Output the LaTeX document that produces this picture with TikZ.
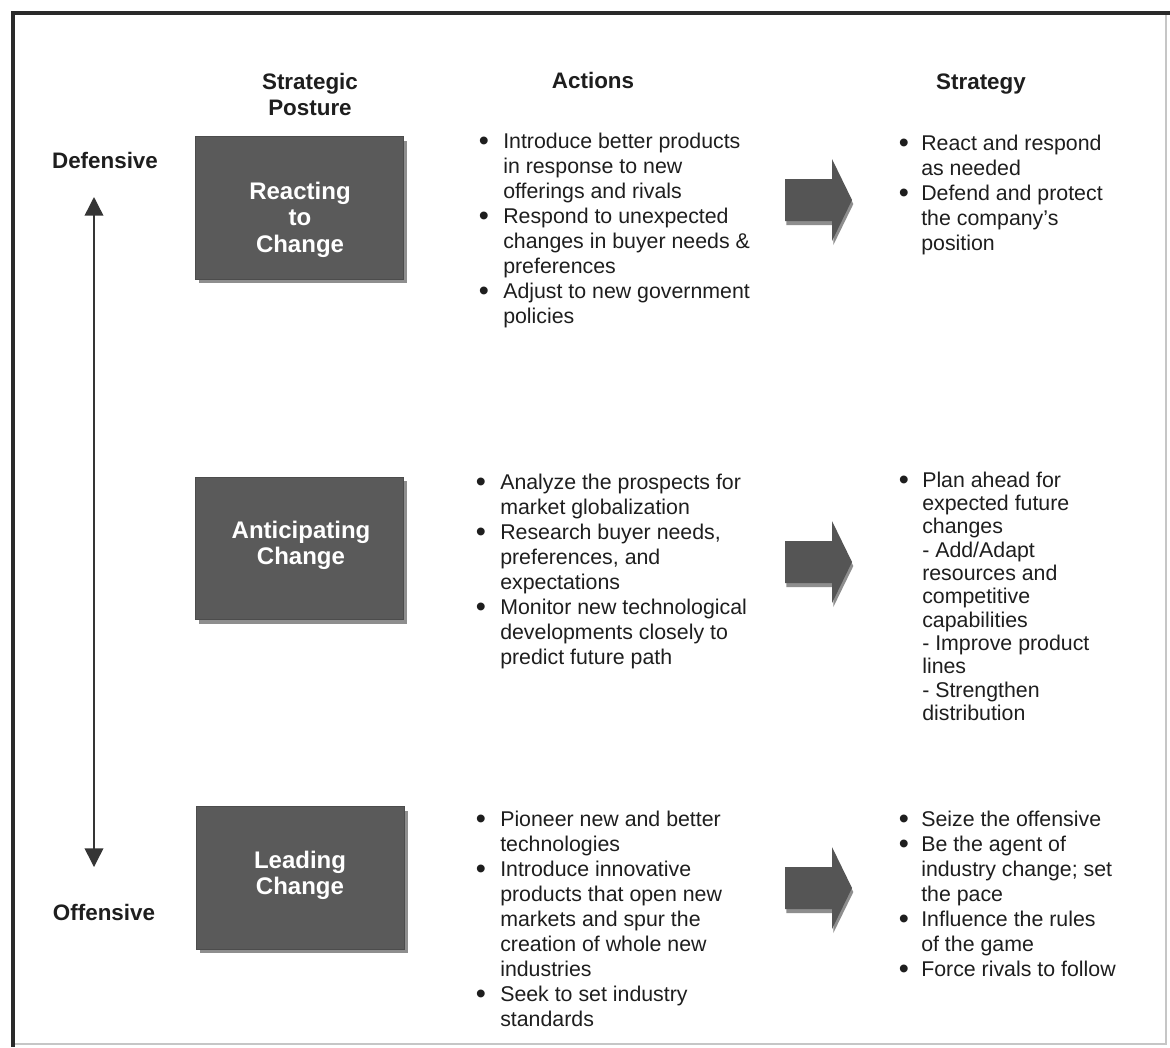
\documentclass[tikz,border=0pt]{standalone}
\usepackage{fontspec}
\usepackage{graphicx}
\setmainfont{Liberation Sans}
\usetikzlibrary{arrows.meta,shadows}

\definecolor{ink}{HTML}{1E1E1E}
\definecolor{boxgray}{HTML}{5A5A5A}
\definecolor{shadowgray}{HTML}{8E8E8E}
\definecolor{arrowgray}{HTML}{555555}
\definecolor{framegray}{HTML}{2A2A2A}

% bullet mark of a given column width
\newcommand\bl[1]{\makebox[#1][l]{\hspace*{-1pt}\smash{\raisebox{-2.2pt}{\scalebox{1.35}{\textbullet}}}}}

\tikzset{
  colhead/.style={font=\bfseries\fontsize{16.8}{19.5}\selectfont, text=ink, inner sep=0, anchor=base},
  posturebox/.style={fill=boxgray, draw=boxgray!85!black, line width=0.6pt,
    minimum width=156pt, minimum height=107pt, inner sep=0,
    drop shadow={shadow xshift=3pt, shadow yshift=-3pt, fill=shadowgray, opacity=1}},
  posturetext/.style={font=\bfseries\fontsize{18}{20}\selectfont, text=white, inner sep=0, anchor=base},
  bulletlist/.style={font=\fontsize{16}{18.75}\selectfont, text=ink, inner sep=0, anchor=base west},
  tightlist/.style={bulletlist, font=\fontsize{16}{17.5}\selectfont},
  axis/.style={draw=ink!90, line width=1.1pt, {Triangle[length=14pt,width=14pt]}-{Triangle[length=14pt,width=14pt]}},
  blockarrow/.style={fill=arrowgray},
  blockshadow/.style={fill=shadowgray}
}

\begin{document}
\begin{tikzpicture}[x=0.75pt, y=-0.75pt]
\useasboundingbox (0,0) rectangle (1170,1047);
\fill[white] (0,0) rectangle (1170,1047);

% outer frame
\draw[gray!45, line width=0.8pt] (1166,13) -- (1166,1044) -- (13,1044);
\draw[framegray, line width=3pt] (11,13) -- (1170,13);
\draw[framegray, line width=3pt] (13,11) -- (13,1047);

% column headings
\node[colhead] (hpost) at (310,89) {\begin{tabular}[t]{@{}c@{}}Strategic\\Posture\end{tabular}};
\node[colhead] (hact) at (593,88) {Actions};
\node[colhead] (hstrat) at (981,89) {Strategy};

% defensive / offensive axis
\node[colhead] (def) at (105,168) {Defensive};
\node[colhead] (off) at (104,920) {Offensive};
\coordinate (axtop) at (94,197);
\coordinate (axbot) at (94,867);
\draw[axis] (axtop) -- (axbot);

% posture boxes
\node[posturebox] (p1) at (299,208) {};
\node[posturebox] (p2) at (299,548.5) {};
\node[posturebox] (p3) at (300,878) {};
\node[posturetext] (p1t) at (300,199) {\begin{tabular}[t]{@{}c@{}}Reacting\\to\\Change\end{tabular}};
\node[posturetext] (p2t) at (301,538) {\begin{tabular}[t]{@{}c@{}}Anticipating\\Change\end{tabular}};
\node[posturetext] (p3t) at (300,868) {\begin{tabular}[t]{@{}c@{}}Leading\\Change\end{tabular}};

% actions
\node[bulletlist] (a1) at (480,148) {\begin{tabular}[t]{@{}l@{}l@{}}
\bl{17.25pt} & Introduce better products\\
 & in response to new\\
 & offerings and rivals\\
\bl{17.25pt} & Respond to unexpected\\
 & changes in buyer needs \&\\
 & preferences\\
\bl{17.25pt} & Adjust to new government\\
 & policies
\end{tabular}};

\node[bulletlist] (a2) at (477,489) {\begin{tabular}[t]{@{}l@{}l@{}}
\bl{17.25pt} & Analyze the prospects for\\
 & market globalization\\
\bl{17.25pt} & Research buyer needs,\\
 & preferences, and\\
 & expectations\\
\bl{17.25pt} & Monitor new technological\\
 & developments closely to\\
 & predict future path
\end{tabular}};

\node[bulletlist] (a3) at (477,826) {\begin{tabular}[t]{@{}l@{}l@{}}
\bl{17.25pt} & Pioneer new and better\\
 & technologies\\
\bl{17.25pt} & Introduce innovative\\
 & products that open new\\
 & markets and spur the\\
 & creation of whole new\\
 & industries\\
\bl{17.25pt} & Seek to set industry\\
 & standards
\end{tabular}};

% block arrows from actions to strategy
\coordinate (arr1) at (785,200);
\coordinate (arr2) at (785,562);
\coordinate (arr3) at (785,888);
\foreach \c in {arr1,arr2,arr3}{
  \fill[blockshadow, shift={(\c)}, xshift=1pt, yshift=-3pt]
    (0,-21) -- (47,-21) -- (47,-41) -- (67,0) -- (47,41) -- (47,21) -- (0,21) -- cycle;
  \fill[blockarrow, shift={(\c)}]
    (0,-21) -- (47,-21) -- (47,-41) -- (67,0) -- (47,41) -- (47,21) -- (0,21) -- cycle;
}

% strategy
\node[bulletlist] (s1) at (900,150) {\begin{tabular}[t]{@{}l@{}l@{}}
\bl{15.75pt} & React and respond\\
 & as needed\\
\bl{15.75pt} & Defend and protect\\
 & the company's\\
 & position
\end{tabular}};

\node[tightlist] (s2) at (900,487) {\begin{tabular}[t]{@{}l@{}l@{}}
\bl{16.5pt} & Plan ahead for\\
 & expected future\\
 & changes\\
 & - Add/Adapt\\
 & resources and\\
 & competitive\\
 & capabilities\\
 & - Improve product\\
 & lines\\
 & - Strengthen\\
 & distribution
\end{tabular}};

\node[bulletlist] (s3) at (900,826) {\begin{tabular}[t]{@{}l@{}l@{}}
\bl{15.75pt} & Seize the offensive\\
\bl{15.75pt} & Be the agent of\\
 & industry change; set\\
 & the pace\\
\bl{15.75pt} & Influence the rules\\
 & of the game\\
\bl{15.75pt} & Force rivals to follow
\end{tabular}};
\end{tikzpicture}
\end{document}
